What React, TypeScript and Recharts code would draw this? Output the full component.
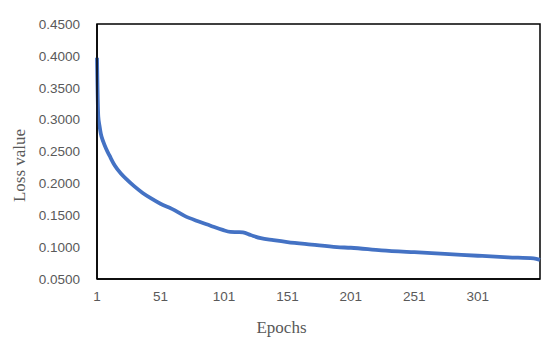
import { LineChart, Line, XAxis, YAxis, ReferenceArea } from "recharts";

// epochs sampled along the curve and the loss read at each one
const epochs = [1, 2, 3, 4, 6, 8, 11, 15, 20, 25, 30, 37, 44, 51, 60, 70, 80, 90, 100, 106, 112, 116, 122, 130, 140, 151, 170, 190, 201, 225, 251, 275, 301, 325, 345, 350];
const lossValues = [0.397, 0.305, 0.29, 0.278, 0.265, 0.255, 0.243, 0.228, 0.215, 0.205, 0.196, 0.185, 0.176, 0.168, 0.16, 0.149, 0.141, 0.134, 0.127, 0.124, 0.1235, 0.123, 0.119, 0.114, 0.111, 0.108, 0.104, 0.1, 0.099, 0.095, 0.092, 0.0895, 0.0865, 0.084, 0.0825, 0.08];

const xTicks = [1, 51, 101, 151, 201, 251, 301];
const yTicks = [0.05, 0.1, 0.15, 0.2, 0.25, 0.3, 0.35, 0.4, 0.45];

const data = epochs.map((epoch, i) => ({ epoch, loss: lossValues[i] }));

const tickStyle = { fontSize: 13.5, fill: "#595959", fontFamily: "'Liberation Sans', Arial, sans-serif" };
const titleStyle = { fontSize: 17, fill: "#595959", fontFamily: "'Liberation Serif', 'Times New Roman', serif", textAnchor: "middle" as const };

export default function App() {
  return (
    <div style={{ position: "absolute", left: 0, top: 0, width: 550, height: 349, background: "#fff" }}>
      <LineChart width={550} height={349} data={data} margin={{ top: 24, right: 10, bottom: 0, left: 0 }}>
        <XAxis
          dataKey="epoch"
          type="number"
          domain={[1, 350]}
          ticks={xTicks}
          interval={0}
          height={70}
          tickLine={false}
          tickSize={0}
          tickMargin={12}
          axisLine={{ stroke: "#000", strokeWidth: 1.5 }}
          tick={tickStyle}
          label={{ value: "Epochs", position: "insideBottom", offset: 16, dx: -37, style: titleStyle }}
        />
        <YAxis
          type="number"
          domain={[0.05, 0.45]}
          ticks={yTicks}
          interval={0}
          width={97}
          tickLine={false}
          tickSize={0}
          tickMargin={17}
          axisLine={{ stroke: "#000", strokeWidth: 1.5 }}
          tick={tickStyle}
          tickFormatter={(v: number) => v.toFixed(4)}
          label={{ value: "Loss value", angle: -90, position: "insideLeft", offset: 19, dy: 14, style: titleStyle }}
        />
        <ReferenceArea x1={1} x2={350} y1={0.05} y2={0.45} fill="none" stroke="#000" strokeWidth={1.5} ifOverflow="visible" />
        <Line
          dataKey="loss"
          type="monotone"
          stroke="#4472C4"
          strokeWidth={3.8}
          dot={false}
          isAnimationActive={false}
        />
      </LineChart>
    </div>
  );
}
